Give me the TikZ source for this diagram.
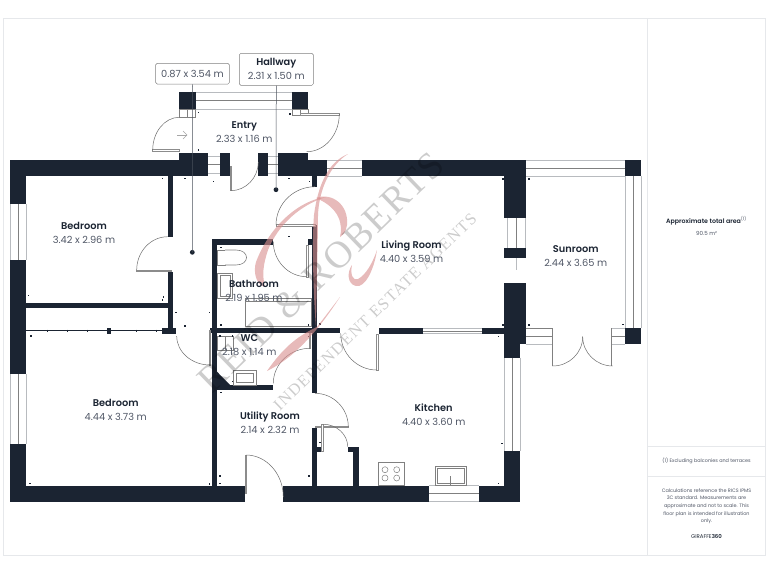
\documentclass[tikz,border=0pt]{standalone}
\usepackage{fontspec}
\usepackage{color}
\setmainfont{Poppins}[BoldFont=Poppins SemiBold]
\newfontfamily\markfont{Liberation Serif}[LetterSpace=5]
\newfontfamily\linefont{Liberation Serif}[LetterSpace=8]
\usetikzlibrary{calc}
\definecolor{wallcol}{HTML}{1B2432}
\definecolor{sizecol}{HTML}{4F5665}
\definecolor{framecol}{HTML}{E6E8EB}
\definecolor{glasscol}{HTML}{B8BBBF}
\definecolor{logocol}{HTML}{D98F8F}
\tikzset{
  window/.style={draw=glasscol, line width=.8pt},
  midglass/.style={draw=gray, line width=.5pt},
  swing/.style={draw=gray!85!black, line width=.5pt},
  leaf/.style={draw=gray!90, fill=white, line width=.6pt},
  fitting/.style={draw=gray, line width=.6pt, fill=white},
  room/.style={align=center, inner sep=0pt, font=\fontsize{9.8}{14}\selectfont, text=sizecol},
  tag/.style={draw=gray, rounded corners=1.5pt, fill=white, align=center, inner sep=0pt, line width=.5pt, text=sizecol},
  leader/.style={draw=wallcol!80, line width=.5pt},
  panel/.style={align=center, inner sep=0pt, text=sizecol},
  logo/.style={fill=logocol, opacity=.62},
  agentmark/.style={inner sep=0pt, text=black, opacity=.2}
}
\newcommand{\swingdoor}[3]{\draw[swing] (#1) .. controls ($(#1)!.55!(#2)$) and ($(#3)!.55!(#2)$) .. (#3);}
\newcommand{\rname}[1]{{\bfseries\color{wallcol}#1}}
\begin{document}
\begin{tikzpicture}[x=1pt,y=-1pt]
\useasboundingbox (0,0) rectangle (768,576);
%% page frame
\draw[framecol, line width=.6pt] (3,18) rectangle (765.5,555);
\draw[framecol, line width=.6pt] (647.5,18) -- (647.5,555);
\draw[framecol, line width=.6pt] (647.5,446) -- (765.5,446);
\draw[framecol, line width=.6pt] (647.5,476) -- (765.5,476);

%% windows, three lines each
\foreach \xa/\xb/\ya/\yb in {195.7/292.3/92.3/109, 326.7/362.3/160/176, 525.7/625/160/176, 525.7/552.7/328.3/344.3, 611.7/625/328.3/344.3, 429/479.3/485.7/501.7, 208.3/220/156/173, 268.3/277.7/156/173, 423.3/481.7/328.6/333.8}{
  \draw[window] (\xa,\ya) -- (\xb,\ya);
  \draw[window] (\xa,\yb) -- (\xb,\yb);
  \draw[midglass] (\xa,{(\ya+\yb)/2}) -- (\xb,{(\ya+\yb)/2});
}
\foreach \xa/\xb/\ya/\yb in {10/26/204/260, 10/26/374.3/444.3, 504/520/357.7/451, 507.7/525.7/217.7/247.7, 625.7/641/176/328.3}{
  \draw[window] (\xa,\ya) -- (\xa,\yb);
  \draw[window] (\xb,\ya) -- (\xb,\yb);
  \draw[midglass] ({(\xa+\xb)/2},\ya) -- ({(\xa+\xb)/2},\yb);
}
\draw[window] (516.7,257.7) -- (516.7,270);

%% walls
\foreach \xa/\ya/\xb/\yb in {
  179.3/92.3/195.7/109, 292.3/92.3/308.3/109,
  10/160/179.3/176, 179.3/152.7/208.3/176, 220/152.7/230/176, 258.3/152.7/268.3/176,
  277.7/152.7/308.3/176, 308.3/160/326.7/176, 362.3/160/525.7/176,
  504/176/525.7/217.7, 504/247.7/525.7/257.7, 504/283.3/525.7/344.3, 504/344.3/520/357.7,
  625/160/641/176, 625/328.3/641/344.3,
  10/176/26/204, 10/260/26/374.3, 10/444.3/26/501.7,
  26/485.7/245/501.7, 283.3/485.7/429/501.7, 479.3/485.7/520/501.7, 504/451/520/485.7,
  167.7/176/173.3/236.7, 167.7/271.7/173.3/333, 26/302.7/168/308.3,
  212/239.3/273.3/245, 212/245/217.3/485.7,
  311.7/176/317.3/186.7, 311.7/225/317.3/393.3, 308/239.3/311.7/245,
  210/328.3/340/333.3, 379.3/328.3/423.3/334, 481.7/328.3/504/334,
  217.3/385/272.7/390,
  311.7/427.7/317.3/486, 317.3/446.7/322.3/452.3, 347.7/446.7/359/452.3, 353.3/452.3/359/486,
  162.3/328.3/176/334, 107.3/328/110.7/334}{
  \fill[wallcol] (\xa,\ya) rectangle (\xb,\yb);
}
\fill[wallcol] (217,371.7) -- (230,385) -- (217,385) -- cycle;

%% wardrobe rail
\draw[wallcol, line width=.5pt] (26,330.7) -- (163,330.7);
\foreach \x in {47.3,67.7,87.7,136.7,156.7}{
  \draw[wallcol, line width=.5pt] (\x,329.7) -- (\x,331.7);
}

%% jambs at the entry
\draw[midglass] (179.3,109) rectangle (195.7,117.3);
\draw[midglass] (187.3,109) -- (187.3,117.3);
\draw[midglass] (292.3,109) rectangle (308.3,115);
\draw[midglass] (300.3,109) -- (300.3,115);
\draw[midglass] (525.7,328.3) -- (552.7,328.3) -- (552.7,366);
\draw[midglass] (611.7,366) -- (611.7,328.3);

%% door leaves
\draw[leaf] (152.7,149.5) rectangle (179.3,151);
\draw[leaf] (300.7,113.5) rectangle (339.3,115);
\draw[leaf] (230,166) rectangle (231.2,190.7);
\draw[leaf] (136.7,270) rectangle (171,271.5);
\draw[leaf] (276,224.5) rectangle (315,226);
\draw[leaf] (306.7,245) rectangle (308.4,277);
\draw[leaf] (309,333.3) rectangle (310.5,348.3);
\draw[leaf] (376.7,334) rectangle (378.3,370);
\draw[leaf] (209,330) rectangle (210.5,365);
\draw[leaf] (315,426) rectangle (348.3,427.5);
\draw[leaf] (321.6,424.3) rectangle (323,451);
\draw[leaf] (245,455) rectangle (246.5,493);

%% door arcs
\swingdoor{179.3,117.3}{152.7,117.3}{152.7,150}
\swingdoor{339.3,114}{339.3,151.7}{306.7,151.7}
\swingdoor{230.7,190.7}{258.3,190.7}{258.3,162}
\swingdoor{315,186.7}{276,186.7}{276,225}
\swingdoor{273.3,241.7}{273.3,276.7}{306.7,276.7}
\swingdoor{167.7,236.7}{136.7,236.7}{136.7,270}
\swingdoor{176.7,336}{176.7,365}{210,365}
\swingdoor{340.7,333.3}{340.7,370}{376.7,370}
\swingdoor{310,348.3}{273.3,348.3}{273.3,383.3}
\swingdoor{315,393.3}{348.3,393.3}{348.3,426.7}
\swingdoor{323.3,424.3}{347.7,424.3}{347.7,446.7}
\swingdoor{246,455}{283.3,455}{283.3,497}
\swingdoor{552.7,366}{582.7,366}{582.7,336.7}
\swingdoor{612.7,366}{582.7,366}{582.7,336.7}
\draw[gray!70, line width=.4pt] (177,135) -- (187,135);
\draw[gray!70, line width=.4pt] (183,131) -- (187,135) -- (183,139);

%% bathroom
\draw[fitting] (217.3,250) rectangle (225,265);
\draw[fitting] (225,250) -- (236,250) .. controls (250,250) and (250,265) .. (236,265) -- (225,265);
\draw[fitting] (217.3,273.5) rectangle (232,298);
\draw[fitting] (220,275.5) rectangle (230,296);
\draw[fitting] (245.7,298.3) rectangle (311.7,326.7);
\draw[midglass] (245.7,301) -- (311.7,301);
\draw[fitting] (217.3,336) rectangle (233,350);
\draw[midglass] (225,336) -- (225,350);
\draw[fitting] (233,370) rectangle (256.7,385);
\draw[midglass] (236,373) rectangle (253.7,382);
%% kitchen
\draw[fitting] (378.3,462.3) rectangle (404.3,485.7);
\foreach \x in {385,396.7}{
  \foreach \y in {469.7,478}{
    \draw[gray, line width=.5pt] (\x,\y) circle (3);
  }
}
\draw[fitting] (435,466) rectangle (466.7,485.2);
\draw[midglass] (437,468) rectangle (464.7,483.5);
\draw[midglass] (450.7,476) -- (450.7,485);

%% size marks along the walls
\foreach \x/\y in {198.3/112.3, 290/114, 198.3/150, 162.3/178.3, 185/178.3, 213.3/181.7, 289/178.3, 309.3/181.7,
  28.3/295.7, 163.3/297, 162.3/300, 176/312.7, 209.3/312.7, 185/326, 30.7/336, 289/236.7, 220.7/247.3, 220.7/325,
  308.3/325, 320/324, 220/336, 232.3/336, 308.3/336.7, 232.3/381.7, 220.7/392.3, 220/476, 220/483.3, 209.3/484,
  309/476, 320/442.7, 502.7/179, 529/179, 502.7/325, 529/325, 498.3/336.7, 622.7/324.3, 501.7/443.3, 498.3/483.3, 30/483.3}{
  \fill[wallcol] (\x-.8,\y-.7) rectangle (\x+.8,\y+.7);
}

%% logo and name over the plan
\fill[logo] (348,154) .. controls (328,162) and (318,185) .. (314,215) .. controls (312,240) and (313,290) .. (316,328) .. controls (316.5,290) and (318,240) .. (318,215) .. controls (319,190) and (330,165) .. (348,154) -- cycle;
\fill[logo] (326,197) .. controls (300,200) and (270,225) .. (256,262) .. controls (253,272) and (256,285) .. (265,287) .. controls (262,275) and (263,265) .. (268,250) .. controls (278,225) and (300,205) .. (326,197) -- cycle;
\fill[logo] (316,198) .. controls (332,192) and (349,205) .. (347,225) .. controls (346,232) and (343,235) .. (340,237) .. controls (343,225) and (340,208) .. (316,198) -- cycle;
\fill[logo] (340,297) .. controls (325,320) and (300,355) .. (267,371) .. controls (285,345) and (300,335) .. (317,327) -- cycle;
\fill[logo] (377,250) .. controls (374,270) and (365,288) .. (356,286) .. controls (347,284) and (347,272) .. (352,265) .. controls (350,275) and (353,281) .. (358,279) .. controls (366,275) and (373,262) .. (377,250) -- cycle;
\node[agentmark, font=\markfont\fontsize{38}{38}\selectfont, rotate=44] (agentname) at (321,272) {REID \& ROBERTS};
\node[agentmark, font=\linefont\fontsize{16.5}{17}\selectfont, rotate=44] (agentline) at (375,312) {INDEPENDENT ESTATE AGENTS};

%% room labels
\node[room] (entry) at (244.3,132) {\rname{Entry}\\2.33 x 1.16 m};
\node[room] (bedroomtop) at (84,233) {\rname{Bedroom}\\3.42 x 2.96 m};
\node[room] (bedroomlow) at (115.7,410.3) {\rname{Bedroom}\\4.44 x 3.73 m};
\node[room] (bathroom) at (254,291) {\rname{Bathroom}\\2.19 x 1.95 m};
\node[room] (wc) at (249.3,345.3) {\rname{WC}\\2.18 x 1.14 m};
\node[room] (utility) at (270,422.7) {\rname{Utility Room}\\2.14 x 2.32 m};
\node[room] (living) at (411.5,251.3) {\rname{Living Room}\\4.40 x 3.59 m};
\node[room] (kitchen) at (433.7,414.3) {\rname{Kitchen}\\4.40 x 3.60 m};
\node[room] (sunroom) at (575.7,255.7) {\rname{Sunroom}\\2.44 x 3.65 m};

%% tags with their leaders
\node[tag, minimum width=73.6pt, minimum height=20.7pt, font=\fontsize{9.8}{14}\selectfont] (closettag) at (192.5,73.7) {0.87 x 3.54 m};
\node[tag, minimum width=74pt, minimum height=32pt, font=\fontsize{9.8}{14}\selectfont] (hallwaytag) at (276.3,69.3) {\rname{Hallway}\\2.31 x 1.50 m};
\coordinate (closetdot) at (192.3,252.3);
\coordinate (hallwaydot) at (276,189.7);
\fill[wallcol] (closetdot) circle (2.4);
\fill[wallcol] (hallwaydot) circle (2.4);
\draw[leader] (closettag.south) -- (closetdot);
\draw[leader] (hallwaytag.south) -- (hallwaydot);

%% side panel
\node[panel, font=\fontsize{6.3}{8}\selectfont] (areatitle) at (706.5,221) {\rname{Approximate total area}\textsuperscript{(1)}};
\node[panel, font=\fontsize{5.6}{8}\selectfont] (areavalue) at (706.5,233.5) {90.5 m²};
\node[panel, font=\fontsize{4.9}{8}\selectfont] (areanote) at (706.5,461) {(1) Excluding balconies and terraces};
\node[panel, font=\fontsize{4.9}{7.7}\selectfont] (disclaimer) at (706.5,506.3) {Calculations reference the RICS IPMS\\3C standard. Measurements are\\approximate and not to scale. This\\floor plan is intended for illustration\\only.};
\node[panel, font=\fontsize{5.4}{8}\selectfont, text=wallcol] (brand) at (706.5,536.7) {GIRAFFE\textbf{360}};
\end{tikzpicture}
\end{document}
